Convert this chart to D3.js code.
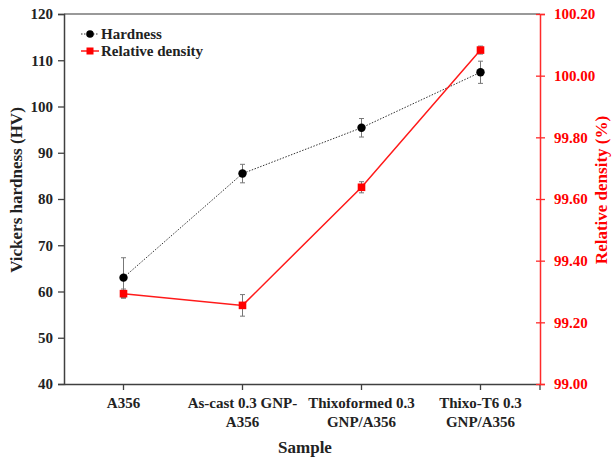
<!DOCTYPE html>
<html lang="en">
<head>
    <meta charset="UTF-8">
    <title>Hardness and relative density</title>
    <script src="https://d3js.org/d3.v7.min.js"></script>
    <style>
        body { margin: 0; background: #fff; }
        svg text { font-family: "Liberation Serif", "Times New Roman", serif; font-weight: bold; }
    </style>
</head>
<body>
    <div id="chart"></div>
    <script>
        // data
        const samples = ["A356", "As-cast 0.3 GNP-\nA356", "Thixoformed 0.3\nGNP/A356", "Thixo-T6 0.3\nGNP/A356"];
        const hardness = [63.0, 85.5, 95.4, 107.4];
        const hardnessErr = [4.3, 2.0, 2.0, 2.4];
        const density = [99.293, 99.255, 99.638, 100.083];
        const densityErr = [0.015, 0.035, 0.018, 0.013];
        const leftTicks = [40, 50, 60, 70, 80, 90, 100, 110, 120];
        const rightTicks = [99.0, 99.2, 99.4, 99.6, 99.8, 100.0, 100.2];

        const W = 612, H = 459;
        const margin = { top: 14, right: 72, bottom: 75, left: 64 };
        const width = W - margin.left - margin.right;
        const height = H - margin.top - margin.bottom;

        const svg = d3.select("#chart").append("svg")
            .attr("width", W).attr("height", H);
        const g = svg.append("g")
            .attr("transform", `translate(${margin.left},${margin.top})`);

        const x = d3.scaleBand().domain(samples).range([0, width]);
        const cx = d => x(d) + x.bandwidth() / 2;
        const yL = d3.scaleLinear().domain([40, 120]).range([height, 0]);
        const yR = d3.scaleLinear().domain([99.0, 100.2]).range([height, 0]);

        const axisColor = "#404040";

        // top border
        g.append("line")
            .attr("x1", 0).attr("x2", width).attr("y1", 0).attr("y2", 0)
            .attr("stroke", "#777").attr("stroke-width", 1.5);

        // left axis
        const left = g.append("g")
            .call(d3.axisLeft(yL).tickValues(leftTicks).tickSize(6).tickPadding(5));
        left.select(".domain").attr("stroke", axisColor).attr("stroke-width", 1.5);
        left.selectAll(".tick line").attr("stroke", axisColor).attr("stroke-width", 1.3);
        left.selectAll(".tick text").attr("font-size", 15).attr("fill", "#222");

        // bottom axis
        const bottom = g.append("g")
            .attr("transform", `translate(0,${height})`)
            .call(d3.axisBottom(x).tickSize(6).tickSizeOuter(0).tickFormat(""));
        bottom.select(".domain").attr("stroke", axisColor).attr("stroke-width", 1.5);
        bottom.selectAll(".tick line").attr("stroke", axisColor).attr("stroke-width", 1.3);
        bottom.append("line")
            .attr("x1", width).attr("x2", width).attr("y1", 0).attr("y2", 6)
            .attr("stroke", axisColor).attr("stroke-width", 1.3);
        samples.forEach(s => {
            const t = g.append("text")
                .attr("x", cx(s)).attr("y", height + 24)
                .attr("text-anchor", "middle").attr("font-size", 15).attr("fill", "#222");
            s.split("\n").forEach((line, i) => {
                t.append("tspan").attr("x", cx(s)).attr("dy", i ? 19 : 0).text(line);
            });
        });

        // right axis
        const right = g.append("g")
            .attr("transform", `translate(${width},0)`)
            .call(d3.axisRight(yR).tickValues(rightTicks).tickSize(5).tickPadding(9)
                .tickFormat(d3.format(".2f")));
        right.select(".domain").attr("stroke", "#ff2a2a").attr("stroke-width", 1.5);
        right.selectAll(".tick line").attr("stroke", "#ff2a2a").attr("stroke-width", 1.3)
            .attr("x1", -4);
        right.selectAll(".tick text").attr("font-size", 15).attr("fill", "#ff0000");

        // axis titles
        svg.append("text")
            .attr("transform", "translate(22,190) rotate(-90)")
            .attr("text-anchor", "middle").attr("font-size", 17).attr("fill", "#222")
            .text("Vickers hardness (HV)");
        svg.append("text")
            .attr("transform", "translate(607,190) rotate(-90)")
            .attr("text-anchor", "middle").attr("font-size", 17).attr("fill", "#ff0000")
            .text("Relative density (%)");
        svg.append("text")
            .attr("x", 305).attr("y", 453)
            .attr("text-anchor", "middle").attr("font-size", 17).attr("fill", "#222")
            .text("Sample");

        // error bars
        function errorBars(vals, errs, y) {
            const eb = g.append("g").attr("stroke", "#777").attr("stroke-width", 1);
            vals.forEach((v, i) => {
                const xi = cx(samples[i]);
                eb.append("line").attr("x1", xi).attr("x2", xi)
                    .attr("y1", y(v - errs[i])).attr("y2", y(v + errs[i]));
                [v - errs[i], v + errs[i]].forEach(e => {
                    eb.append("line").attr("x1", xi - 2.5).attr("x2", xi + 2.5)
                        .attr("y1", y(e)).attr("y2", y(e));
                });
            });
        }
        errorBars(hardness, hardnessErr, yL);
        errorBars(density, densityErr, yR);

        // hardness line
        g.append("path")
            .datum(hardness)
            .attr("fill", "none").attr("stroke", "#333").attr("stroke-width", 1)
            .attr("stroke-dasharray", "1.5,1.5")
            .attr("d", d3.line().x((d, i) => cx(samples[i])).y(d => yL(d)));
        g.selectAll(".hpt").data(hardness).enter().append("circle")
            .attr("cx", (d, i) => cx(samples[i])).attr("cy", d => yL(d))
            .attr("r", 4.2).attr("fill", "#000");

        // density line
        g.append("path")
            .datum(density)
            .attr("fill", "none").attr("stroke", "#ff1a1a").attr("stroke-width", 1.5)
            .attr("d", d3.line().x((d, i) => cx(samples[i])).y(d => yR(d)));
        g.selectAll(".dpt").data(density).enter().append("rect")
            .attr("x", (d, i) => cx(samples[i]) - 3.8).attr("y", d => yR(d) - 3.8)
            .attr("width", 7.6).attr("height", 7.6).attr("fill", "#ff0000");

        // legend
        const lg = svg.append("g").attr("transform", "translate(81,34)");
        lg.append("line").attr("x1", 0).attr("x2", 18).attr("y1", 0).attr("y2", 0)
            .attr("stroke", "#333").attr("stroke-dasharray", "1.5,1.5");
        lg.append("circle").attr("cx", 9).attr("cy", 0).attr("r", 3.8).attr("fill", "#000");
        lg.append("text").attr("x", 20).attr("y", 5).attr("font-size", 15).attr("fill", "#222")
            .text("Hardness");
        lg.append("line").attr("x1", 0).attr("x2", 18).attr("y1", 17).attr("y2", 17)
            .attr("stroke", "#ff1a1a").attr("stroke-width", 1.5);
        lg.append("rect").attr("x", 5.5).attr("y", 13.5).attr("width", 7).attr("height", 7)
            .attr("fill", "#ff0000");
        lg.append("text").attr("x", 20).attr("y", 22).attr("font-size", 15).attr("fill", "#222")
            .text("Relative density");
    </script>
</body>
</html>
